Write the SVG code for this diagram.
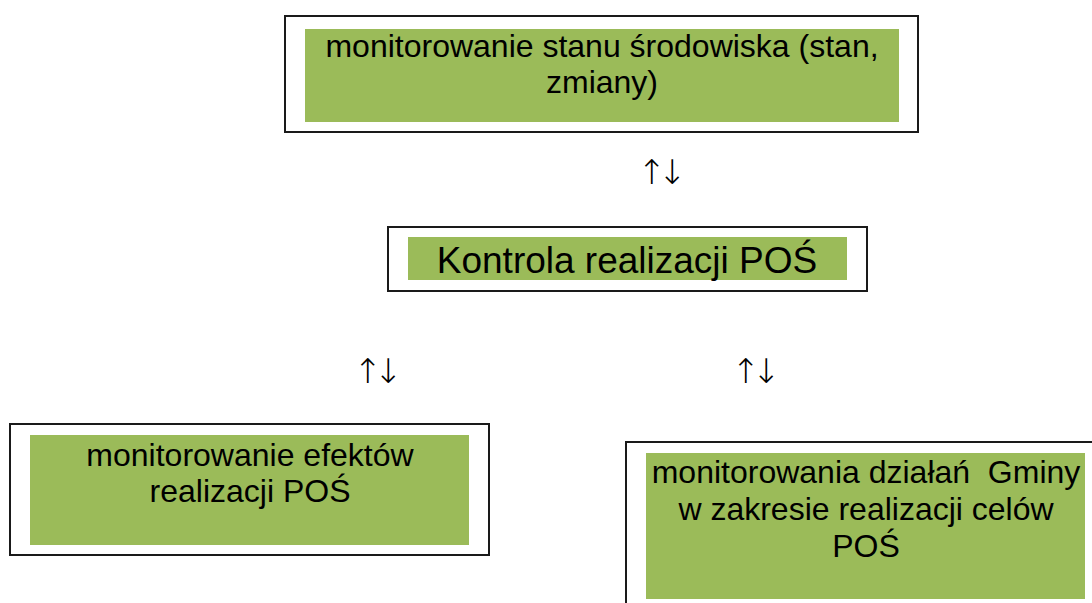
<svg xmlns="http://www.w3.org/2000/svg" width="1092" height="603" viewBox="0 0 1092 603">
<style>
.frame{fill:#fff;stroke:#1a1a1a;stroke-width:2}
.fill{fill:#9bbb59}
.t{font-family:"Liberation Sans",Arial,sans-serif;font-size:32px;fill:#000;text-anchor:middle;white-space:pre}
.big{font-size:37px}
.arr{font-family:"DejaVu Sans",sans-serif;font-size:34px;font-weight:200;fill:#000;text-anchor:middle;letter-spacing:-8px}
</style>
<rect width="1092" height="603" fill="#fff"/>
<g id="node-top">
<rect class="frame" x="285" y="16" width="633" height="116"/>
<rect class="fill" x="305" y="29" width="594" height="93"/>
<text class="t" x="602" y="57">monitorowanie stanu środowiska (stan,</text>
<text class="t" x="602" y="93">zmiany)</text>
</g>
<g id="node-center">
<rect class="frame" x="388" y="227" width="479" height="64"/>
<rect class="fill" x="408" y="237" width="439" height="43"/>
<text class="t big" x="627" y="273">Kontrola realizacji POŚ</text>
</g>
<g id="node-left">
<rect class="frame" x="10" y="424" width="479" height="131"/>
<rect class="fill" x="30" y="435" width="439" height="110"/>
<text class="t" x="250" y="466">monitorowanie efektów</text>
<text class="t" x="250" y="502">realizacji POŚ</text>
</g>
<g id="node-right">
<rect class="frame" x="626" y="442" width="480" height="180"/>
<rect class="fill" x="646" y="453" width="439" height="146"/>
<text class="t" x="866" y="483" xml:space="preserve">monitorowania działań  Gminy</text>
<text class="t" x="866" y="520">w zakresie realizacji celów</text>
<text class="t" x="866" y="557">POŚ</text>
</g>
<g id="connectors">
<text class="arr" x="658" y="184">↑↓</text>
<text class="arr" x="374" y="383">↑↓</text>
<text class="arr" x="752" y="383">↑↓</text>
</g>
</svg>
